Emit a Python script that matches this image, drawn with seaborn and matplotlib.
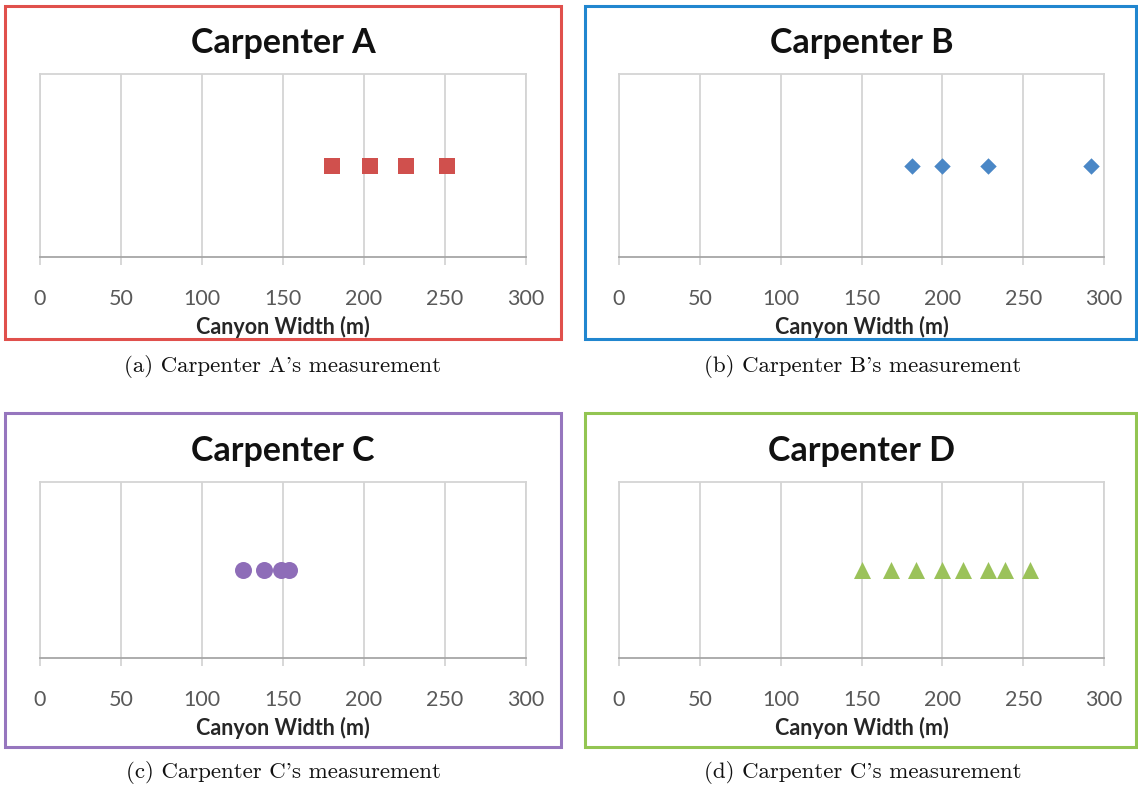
import matplotlib
matplotlib.use("Agg")
import matplotlib.pyplot as plt
from matplotlib.patches import Rectangle
import seaborn as sns
import pandas as pd

# Canyon width readings (m) from each carpenter
carpenter_a = [180, 204, 226, 251]
carpenter_b = [181, 200, 228, 292]
carpenter_c = [125, 138, 149, 154]
carpenter_d = [150, 168, 184, 200, 213, 228, 239, 254]

# every reading sits on one horizontal line in its panel
level_a = [1, 1, 1, 1]
level_b = [1, 1, 1, 1]
level_c = [1, 1, 1, 1]
level_d = [1, 1, 1, 1, 1, 1, 1, 1]

tick_values = [0, 50, 100, 150, 200, 250, 300]
tick_labels = ["0", "50", "100", "150", "200", "250", "300"]

titles = ["Carpenter A", "Carpenter B", "Carpenter C", "Carpenter D"]
captions = ["(a) Carpenter A's measurement", "(b) Carpenter B's measurement",
            "(c) Carpenter C's measurement", "(d) Carpenter C's measurement"]

sns.set_style("white")
plt.rcParams["font.family"] = ["Lato", "DejaVu Sans"]

W, H = 1138, 787
fig = plt.figure(figsize=(W / 100, H / 100), dpi=100)


def fx(x):
    return x / W


def fy(y):
    return 1 - y / H


panels = [
    dict(x=carpenter_a, y=level_a, color="#D0504D", edge="#E0504C", marker="s", s=130,
         box=(5, 6, 561, 339), ax=(40, 74, 526, 257), cap=(283, 367)),
    dict(x=carpenter_b, y=level_b, color="#4A87C6", edge="#2186CF", marker="D", s=70,
         box=(585, 6, 1136, 339), ax=(619, 74, 1104, 257), cap=(863, 367)),
    dict(x=carpenter_c, y=level_c, color="#8E6DB8", edge="#9676BE", marker="o", s=150,
         box=(5, 413, 561, 747), ax=(40, 482, 526, 658), cap=(283, 773)),
    dict(x=carpenter_d, y=level_d, color="#9BC25A", edge="#93C552", marker="^", s=150,
         box=(585, 413, 1136, 747), ax=(619, 482, 1104, 658), cap=(863, 773)),
]

grid_c = "#D4D4D4"

for p, title, caption in zip(panels, titles, captions):
    x0, y0, x1, y1 = p["box"]
    fig.patches.append(Rectangle((fx(x0), fy(y1)), fx(x1 - x0), (y1 - y0) / H,
                                 transform=fig.transFigure, fill=False,
                                 edgecolor=p["edge"], linewidth=2.2, zorder=0))
    a0, b0, a1, b1 = p["ax"]
    ax = fig.add_axes([fx(a0), fy(b1), fx(a1 - a0), (b1 - b0) / H])
    df = pd.DataFrame({"width": p["x"], "level": p["y"]})
    sns.scatterplot(data=df, x="width", y="level", ax=ax, marker=p["marker"],
                    s=p["s"], color=p["color"], linewidth=0, zorder=3, legend=False)
    ax.set_xlim(0, 300)
    ax.set_ylim(0, 2)
    ax.set_yticks([])
    ax.set_ylabel("")
    ax.set_xticks(tick_values)
    ax.set_xticklabels(tick_labels, fontsize=15.5, color="#595959")
    ax.grid(axis="x", color=grid_c, linewidth=1.3)
    ax.set_axisbelow(True)
    ax.tick_params(axis="x", length=6, width=1.3, color=grid_c, pad=17, bottom=True)
    for side in ["left", "right", "top"]:
        ax.spines[side].set_color(grid_c)
        ax.spines[side].set_linewidth(1.3)
    ax.spines["bottom"].set_color("#A6A6A6")
    ax.spines["bottom"].set_linewidth(1.3)
    ax.set_xlabel("Canyon Width (m)", fontsize=15.5, fontweight="bold",
                  color="#262626", labelpad=5)
    ax.set_title(title, fontsize=24.5, fontweight="bold", color="#111111", pad=15)
    fig.text(fx(p["cap"][0]), fy(p["cap"][1]), caption, family="cmr10",
             fontsize=16.5, ha="center", va="center", color="#111111")

fig.savefig("out.png", dpi=100, facecolor="white")
